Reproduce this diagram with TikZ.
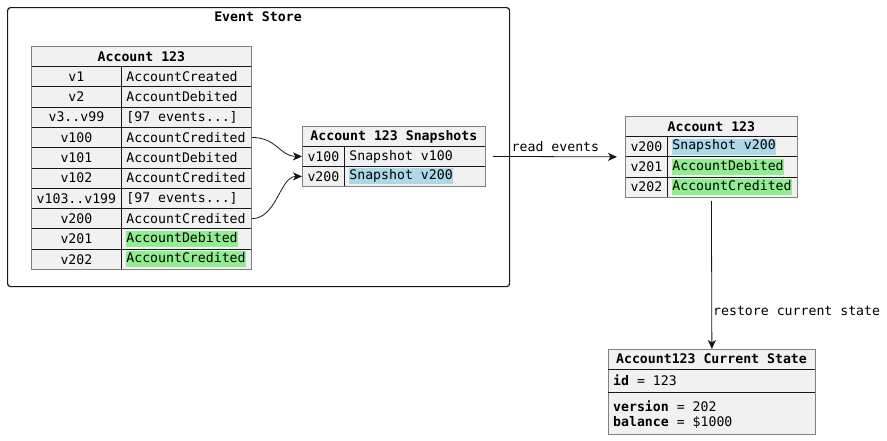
\documentclass[tikz,border=0pt]{standalone}
\usepackage{fontspec}
\setmainfont{DejaVu Sans Mono}
\setmonofont{DejaVu Sans Mono}
\usetikzlibrary{arrows.meta}
\definecolor{cellfill}{HTML}{F1F1F1}
\definecolor{cellborder}{HTML}{808080}
\definecolor{hlgreen}{HTML}{90EE90}
\definecolor{hlblue}{HTML}{ADD8E6}
\definecolor{ink}{HTML}{181818}
\newcommand{\tfont}{\fontsize{13.2}{16}\selectfont}
\newcommand{\hlg}[1]{{\setlength{\fboxsep}{0pt}\colorbox{hlgreen}{\strut #1}}}
\newcommand{\hlb}[1]{{\setlength{\fboxsep}{0pt}\colorbox{hlblue}{\strut #1}}}
\newcommand{\vc}[2]{\makebox[#1][l]{#2}}
\tikzset{
  cell/.style={draw=ink, line width=0.8pt, fill=cellfill, minimum height=20.3pt, inner sep=0pt, anchor=north west, font=\tfont},
  headcell/.style={cell, minimum height=20pt, font=\tfont\bfseries},
  keycell/.style={cell},
  valcell/.style={cell, inner xsep=5pt},
  tablebox/.style={draw=cellborder, line width=0.8pt, anchor=north west, inner sep=0pt},
  conn/.style={draw=ink, line width=0.8pt, -{Stealth[length=9pt,width=8pt,inset=2.5pt]}},
  lbl/.style={font=\tfont, inner sep=0pt},
}
\begin{document}
\begin{tikzpicture}[x=1pt,y=-1pt]
\useasboundingbox (0,0) rectangle (887,440);
\fill[white] (0,0) rectangle (887,440);

% Event store frame
\node[draw=ink, line width=1.2pt, rounded corners=3pt, minimum width=502pt, minimum height=279pt, anchor=north west, inner sep=0pt] (es) at (7,7) {};
\node[lbl, font=\tfont\bfseries] (estitle) at (258,17) {Event Store};

% Left table
\node[headcell, minimum width=220pt] (lh) at (31,46) {Account 123};
\node[keycell, minimum width=90pt] (lk1) at (31,66) {v1};
\node[valcell] (lv1) at (121,66) {\vc{120pt}{AccountCreated}};
\node[keycell, minimum width=90pt] (lk2) at (31,86.3) {v2};
\node[valcell] (lv2) at (121,86.3) {\vc{120pt}{AccountDebited}};
\node[keycell, minimum width=90pt] (lk3) at (31,106.6) {v3..v99};
\node[valcell] (lv3) at (121,106.6) {\vc{120pt}{[97 events...]}};
\node[keycell, minimum width=90pt] (lk4) at (31,126.9) {v100};
\node[valcell] (lv4) at (121,126.9) {\vc{120pt}{AccountCredited}};
\node[keycell, minimum width=90pt] (lk5) at (31,147.2) {v101};
\node[valcell] (lv5) at (121,147.2) {\vc{120pt}{AccountDebited}};
\node[keycell, minimum width=90pt] (lk6) at (31,167.5) {v102};
\node[valcell] (lv6) at (121,167.5) {\vc{120pt}{AccountCredited}};
\node[keycell, minimum width=90pt] (lk7) at (31,187.8) {v103..v199};
\node[valcell] (lv7) at (121,187.8) {\vc{120pt}{[97 events...]}};
\node[keycell, minimum width=90pt] (lk8) at (31,208.1) {v200};
\node[valcell] (lv8) at (121,208.1) {\vc{120pt}{AccountCredited}};
\node[keycell, minimum width=90pt] (lk9) at (31,228.4) {v201};
\node[valcell] (lv9) at (121,228.4) {\vc{120pt}{\hlg{AccountDebited}}};
\node[keycell, minimum width=90pt] (lk10) at (31,248.7) {v202};
\node[valcell] (lv10) at (121,248.7) {\vc{120pt}{\hlg{AccountCredited}}};
\node[tablebox, minimum width=220pt, minimum height=223pt] (acctl) at (31,46) {};

% Snapshots table
\node[headcell, minimum width=183pt] (sh) at (302,126) {Account 123 Snapshots};
\node[keycell, minimum width=42pt, minimum height=20pt] (sk1) at (302,146) {v100};
\node[valcell, minimum height=20pt] (sv1) at (344,146) {\vc{131pt}{Snapshot v100}};
\node[keycell, minimum width=42pt, minimum height=20pt] (sk2) at (302,166) {v200};
\node[valcell, minimum height=20pt] (sv2) at (344,166) {\vc{131pt}{\hlb{Snapshot v200}}};
\node[tablebox, minimum width=183pt, minimum height=60pt] (snap) at (302,126) {};

% Right table
\node[headcell, minimum width=172pt] (rh) at (625,116) {Account 123};
\node[keycell, minimum width=42pt] (rk1) at (625,136) {v200};
\node[valcell] (rv1) at (667,136) {\vc{120pt}{\hlb{Snapshot v200}}};
\node[keycell, minimum width=42pt] (rk2) at (625,156.3) {v201};
\node[valcell] (rv2) at (667,156.3) {\vc{120pt}{\hlg{AccountDebited}}};
\node[keycell, minimum width=42pt] (rk3) at (625,176.6) {v202};
\node[valcell] (rv3) at (667,176.6) {\vc{120pt}{\hlg{AccountCredited}}};
\node[tablebox, minimum width=172pt, minimum height=81pt] (acctr) at (625,116) {};

% Current state
\node[tablebox, fill=cellfill, minimum width=207pt, minimum height=85pt] (cs) at (608,349) {};
\draw[ink, line width=0.8pt] (608,369) -- (815,369);
\draw[ink, line width=0.8pt] (608,392) -- (815,392);
\node[lbl, font=\tfont\bfseries] (csh) at (711.5,359) {Account123 Current State};
\node[lbl, anchor=west] (csid) at (613,380.5) {\textbf{id} = 123};
\node[lbl, anchor=west] (csv) at (613,406) {\textbf{version} = 202};
\node[lbl, anchor=west] (csb) at (613,422) {\textbf{balance} = \$1000};

% Connectors
\draw[conn] (lv4.east) .. controls +(25,0) and +(-22,0) .. (sk1.west);
\draw[conn] (lv8.east) .. controls +(25,0) and +(-22,0) .. (sk2.west);
\draw[conn, shorten <=7pt, shorten >=8pt] (snap.east) -- (acctr.west) node[lbl, midway, above=5pt] (re) {read events};
\draw[conn, shorten <=3pt] (acctr.south) -- (cs.north);
\node[lbl, anchor=west] (rcs) at (713,311) {restore current state};
\end{tikzpicture}
\end{document}
